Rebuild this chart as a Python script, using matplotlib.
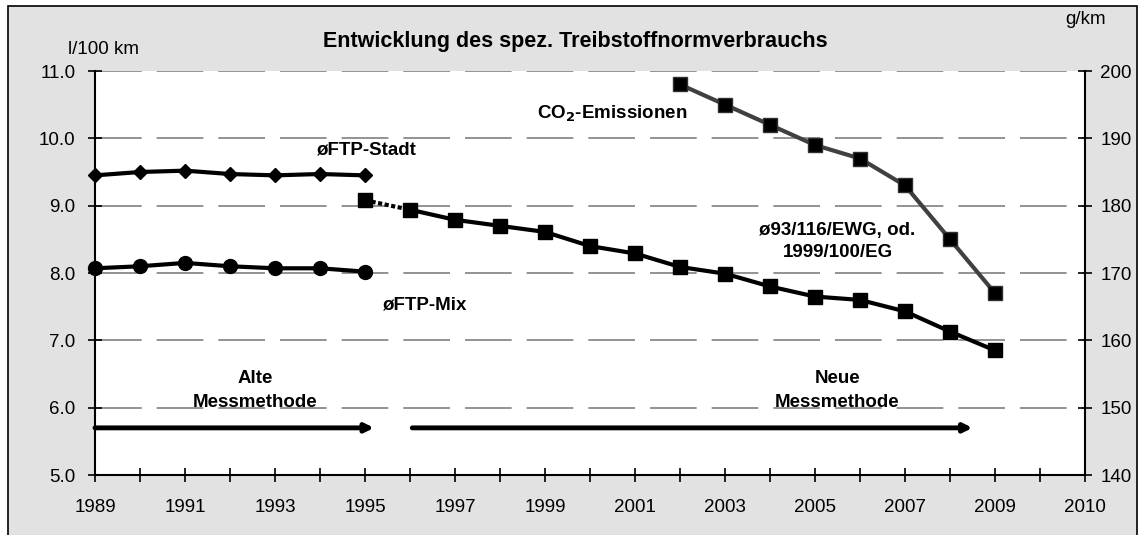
import matplotlib.pyplot as plt
from matplotlib.patches import Rectangle

plt.rcParams['font.family'] = ['Liberation Sans', 'DejaVu Sans']

# Daten
jahre_stadt = [1989, 1990, 1991, 1992, 1993, 1994, 1995]
ftp_stadt = [9.45, 9.50, 9.52, 9.47, 9.45, 9.47, 9.45]
ftp_mix = [8.07, 8.10, 8.15, 8.10, 8.07, 8.07, 8.02]

jahre_neu = [1995, 1996, 1997, 1998, 1999, 2000, 2001, 2002, 2003, 2004,
             2005, 2006, 2007, 2008, 2009]
ewg = [9.08, 8.94, 8.79, 8.70, 8.61, 8.40, 8.29, 8.09, 7.99, 7.80,
       7.65, 7.60, 7.43, 7.13, 6.85]

jahre_co2 = [2002, 2003, 2004, 2005, 2006, 2007, 2008, 2009]
co2 = [198, 195, 192, 189, 187, 183, 175, 167]

x_ticks = list(range(1989, 2012))
x_labels = [str(j) if j % 2 == 1 and j < 2010 else '' for j in x_ticks]
x_labels[-1] = '2010'

fs = 13.5

fig = plt.figure(figsize=(11.46, 5.35), dpi=100)
fig.patch.set_facecolor('white')
# grauer Rahmen
fig.patches.append(Rectangle((8/1146, -0.05), 1129/1146, 1.05 - 6/535,
                             transform=fig.transFigure, facecolor='#e2e2e2',
                             edgecolor='black', linewidth=1.2, zorder=-10))

ax = fig.add_axes([95/1146, 60/535, 990/1146, 404/535])
ax.set_facecolor('white')
ax.set_xlim(1989, 2011)
ax.set_ylim(5, 11)
ax.set_yticks([5, 6, 7, 8, 9, 10, 11])
ax.set_yticklabels([f'{v:.1f}' for v in [5, 6, 7, 8, 9, 10, 11]], fontsize=fs)
ax.set_xticks(x_ticks)
ax.set_xticklabels(x_labels, fontsize=fs)
ax.tick_params(axis='x', direction='inout', length=10, width=1.2, pad=12)
ax.tick_params(axis='y', direction='inout', length=10, width=1.2, pad=9)
ax.grid(axis='y', color='#808080', linestyle=(0, (28, 9)), linewidth=1.2)
ax.set_axisbelow(True)
ax.spines['top'].set_visible(False)
ax.spines['right'].set_visible(False)
for s in ['left', 'bottom']:
    ax.spines[s].set_linewidth(1.5)

ax2 = ax.twinx()
ax2.set_ylim(140, 200)
ax2.set_yticks(range(140, 201, 10))
ax2.set_yticklabels([str(v) for v in range(140, 201, 10)], fontsize=fs)
ax2.tick_params(axis='y', direction='inout', length=10, width=1.2, pad=6)
ax2.spines['top'].set_visible(False)
ax2.spines['left'].set_visible(False)
ax2.spines['bottom'].set_visible(False)
ax2.spines['right'].set_linewidth(1.5)

# Linien
ax.plot(jahre_stadt, ftp_stadt, color='black', lw=3, marker='D', ms=7.5, clip_on=False, zorder=5)
ax.plot(jahre_stadt, ftp_mix, color='black', lw=3, marker='o', ms=10, clip_on=False, zorder=5)
ax.plot(jahre_neu[:2], ewg[:2], color='black', lw=3, linestyle=(0, (1, 0.6)), zorder=4)
ax.plot(jahre_neu[1:], ewg[1:], color='black', lw=3, zorder=4)
ax.plot(jahre_neu, ewg, linestyle='none', marker='s', ms=10, color='black', zorder=5)
ax2.plot(jahre_co2, co2, color='#404040', lw=3, marker='s', ms=10,
         markerfacecolor='black', markeredgecolor='#303030', zorder=5)

# Pfeile
pf = dict(arrowstyle='-|>', color='black', lw=3.5, mutation_scale=12, shrinkA=0, shrinkB=0)
ax.annotate('', xy=(1995.2, 5.7), xytext=(1989, 5.7), arrowprops=pf)
ax.annotate('', xy=(2008.5, 5.7), xytext=(1996.05, 5.7), arrowprops=pf)

# Texte
bold = dict(fontsize=fs, fontweight='bold', ha='center', va='center')
ax.text(1995.05, 9.83, 'øFTP-Stadt', **bold)
ax.text(1996.33, 7.52, 'øFTP-Mix', **bold)
ax.text(2000.5, 10.37, 'CO$_\\mathbf{2}$-Emissionen', **bold)
ax.text(2005.5, 8.47, 'ø93/116/EWG, od.\n1999/100/EG', linespacing=1.4, **bold)
ax.text(1992.55, 6.25, 'Alte\nMessmethode', linespacing=1.55, **bold)
ax.text(2005.5, 6.25, 'Neue\nMessmethode', linespacing=1.55, **bold)

fig.text(575/1146, 1 - 42/535, 'Entwicklung des spez. Treibstoffnormverbrauchs',
         fontsize=15.5, fontweight='bold', ha='center', va='center')
fig.text(103/1146, 1 - 50/535, 'l/100 km', fontsize=fs, ha='center', va='center')
fig.text(1086/1146, 1 - 19/535, 'g/km', fontsize=fs, ha='center', va='center')

fig.savefig('out.png', dpi=100, facecolor=fig.get_facecolor())
